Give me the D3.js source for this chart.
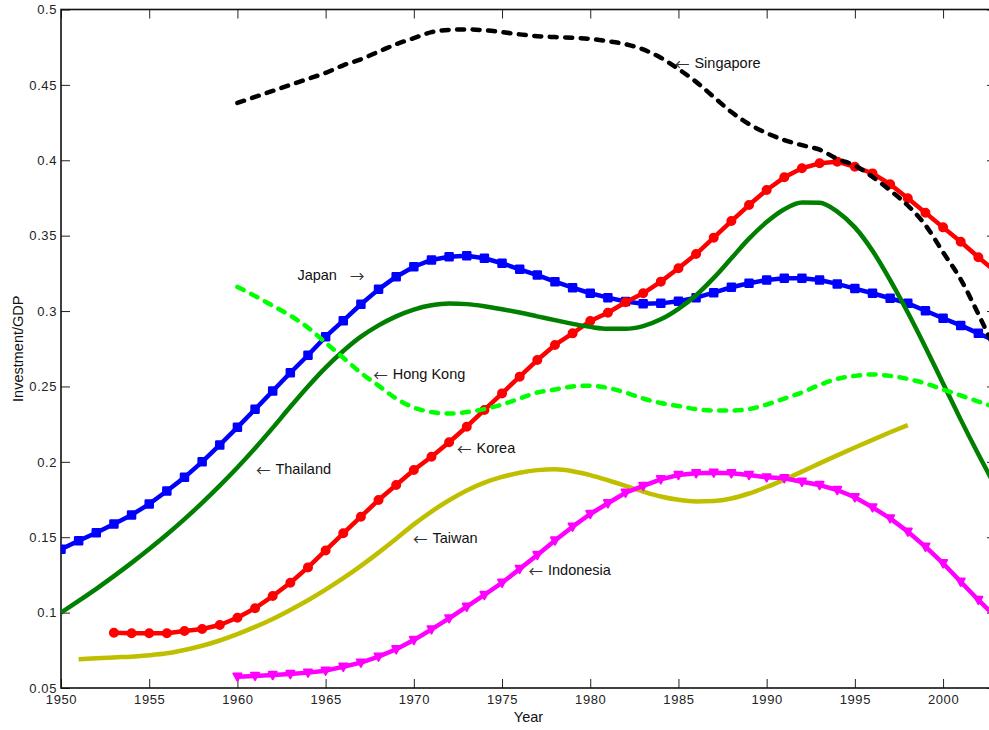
<!DOCTYPE html>
<html>
<head>
<meta charset="utf-8">
<script src="https://cdn.jsdelivr.net/npm/d3@7"></script>
<style>
  html, body { margin: 0; padding: 0; background: #fff; }
  svg { display: block; font-family: "Liberation Sans", Arial, Helvetica, sans-serif; }
</style>
</head>
<body>
<svg id="chart" width="989" height="730"></svg>
<script>
// Investment / GDP ratios, annual, by economy
const japanYears = d3.range(1950, 2004);
const japan = [
  0.142, 0.1477, 0.153, 0.1588, 0.1648, 0.172, 0.1807, 0.1897, 0.200, 0.2112,
  0.2229, 0.2348, 0.247, 0.2591, 0.2707, 0.283, 0.2936, 0.3045, 0.3144, 0.3228,
  0.3294, 0.3339, 0.336, 0.3367, 0.335, 0.3317, 0.3277, 0.3239, 0.3195, 0.3155,
  0.3118, 0.3089, 0.3063, 0.3049, 0.3051, 0.3065, 0.3089, 0.3122, 0.3158, 0.3184,
  0.3206, 0.3217, 0.3217, 0.3206, 0.318, 0.3149, 0.3118, 0.3085, 0.3051, 0.3002,
  0.2952, 0.2905, 0.2852, 0.280
];

const koreaYears = d3.range(1953, 2004);
const korea = [
  0.0867, 0.0863, 0.0863, 0.0863, 0.0878, 0.0891, 0.0918,
  0.0966, 0.1029, 0.111, 0.1198, 0.130, 0.1412, 0.1526, 0.1636, 0.1747, 0.1846,
  0.1946, 0.2034, 0.213, 0.2233, 0.2344, 0.2454, 0.2565, 0.2675, 0.2775, 0.2852,
  0.2934, 0.2989, 0.3058, 0.3118, 0.3195, 0.3284, 0.3378, 0.3487, 0.3597, 0.3703,
  0.3803, 0.3887, 0.3947, 0.398, 0.3991, 0.3957, 0.3913, 0.3841, 0.3748, 0.3652,
  0.3555, 0.346, 0.3357, 0.326
];

const thailandYears = d3.range(1950, 2004);
const thailand = [
  0.1000, 0.1078, 0.1158, 0.1242, 0.1330, 0.1422, 0.1518, 0.1620, 0.1728, 0.1842,
  0.1962, 0.2090, 0.2225, 0.2365, 0.2500, 0.2625, 0.2735, 0.2830, 0.2905, 0.2965,
  0.3010, 0.3038, 0.3050, 0.3046, 0.3032, 0.3012, 0.2990, 0.2965, 0.2940, 0.2915,
  0.2895, 0.2882, 0.2882, 0.2900, 0.2945, 0.3015, 0.3105, 0.3220, 0.3350, 0.3480,
  0.3590, 0.3675, 0.3720, 0.3718, 0.3660, 0.3555, 0.3400, 0.3205, 0.2990, 0.2760,
  0.2520, 0.2280, 0.2050, 0.1830
];

const hongKongYears = d3.range(1960, 2004);
const hongKong = [
  0.316, 0.310, 0.3035, 0.297, 0.289, 0.279, 0.269, 0.259, 0.2505, 0.242,
  0.236, 0.233, 0.232, 0.233, 0.235, 0.238, 0.242, 0.246, 0.248, 0.250,
  0.2505, 0.249, 0.246, 0.242, 0.239, 0.237, 0.235, 0.234, 0.234, 0.235,
  0.238, 0.242, 0.246, 0.251, 0.255, 0.257, 0.258, 0.257, 0.255, 0.252,
  0.248, 0.244, 0.240, 0.236
];

const singaporeYears = d3.range(1960, 2004);
const singapore = [
  0.438, 0.442, 0.446, 0.450, 0.454, 0.458, 0.463, 0.467, 0.472, 0.477,
  0.481, 0.485, 0.4865, 0.4868, 0.4862, 0.485, 0.4835, 0.4823, 0.4817, 0.4812,
  0.4805, 0.479, 0.477, 0.4735, 0.468, 0.4605, 0.452, 0.442, 0.432, 0.424,
  0.418, 0.4134, 0.410, 0.407, 0.401, 0.3965, 0.389, 0.380, 0.370, 0.357,
  0.339, 0.321, 0.298, 0.273
];

const taiwanYears = d3.range(1951, 1999);
const taiwan = [
  0.0690, 0.0697, 0.0703, 0.0708, 0.0717, 0.0730, 0.0752, 0.0780, 0.0815,
  0.0857, 0.0905, 0.0958, 0.1018, 0.1082, 0.1152, 0.1228, 0.1310, 0.1398, 0.1490,
  0.1585, 0.1670, 0.1745, 0.1810, 0.1862, 0.1900, 0.1928, 0.1945, 0.1950, 0.1938,
  0.1912, 0.1878, 0.1840, 0.1803, 0.1770, 0.1748, 0.1737, 0.1740, 0.1757, 0.1790,
  0.1833, 0.1882, 0.1935, 0.1990, 0.2043, 0.2095, 0.2146, 0.2196, 0.2244
];

const indonesiaYears = d3.range(1960, 2004);
const indonesia = [
  0.0575, 0.058, 0.0586, 0.0593, 0.0602, 0.0615, 0.0641, 0.0668, 0.0708, 0.0757,
  0.0818, 0.0889, 0.0962, 0.1039, 0.1117, 0.1198, 0.129, 0.1382, 0.1478, 0.157,
  0.1654, 0.1725, 0.1795, 0.184, 0.1884, 0.1913, 0.1924, 0.1928, 0.1924, 0.1913,
  0.1897, 0.1891, 0.1868, 0.1846, 0.1813, 0.1765, 0.1698, 0.1625, 0.1537, 0.1437,
  0.1327, 0.1205, 0.1084, 0.097
];

const xTicks = [1950, 1955, 1960, 1965, 1970, 1975, 1980, 1985, 1990, 1995, 2000];
const yTicks = [0.05, 0.1, 0.15, 0.2, 0.25, 0.3, 0.35, 0.4, 0.45, 0.5];

// Annotation anchors (year, ratio), label and arrow side
const annotations = [
  { label: "Singapore", arrow: "left",  year: 1984.8,  value: 0.4645 },
  { label: "Japan",     arrow: "right", year: 1963.4,  value: 0.3236 },
  { label: "Hong Kong", arrow: "left",  year: 1967.7,  value: 0.2583 },
  { label: "Korea",     arrow: "left",  year: 1972.45, value: 0.2092 },
  { label: "Thailand",  arrow: "left",  year: 1961.05, value: 0.1952 },
  { label: "Taiwan",    arrow: "left",  year: 1969.95, value: 0.1495 },
  { label: "Indonesia", arrow: "left",  year: 1976.5,  value: 0.1283 }
];

(function drawChart() {
  const svg = d3.select("#chart");
  const mLeft = 61, mRight = 996, mTop = 9.5, mBottom = 688;

  const x = d3.scaleLinear().domain([1950, 2003]).range([mLeft, mRight]);
  const y = d3.scaleLinear().domain([0.05, 0.5]).range([mBottom, mTop]);

  svg.append("defs").append("clipPath").attr("id", "plotClip")
    .append("rect").attr("x", mLeft).attr("y", mTop)
    .attr("width", mRight - mLeft).attr("height", mBottom - mTop);

  // Axes with inward ticks
  const tickFont = 13;
  const gx = svg.append("g").attr("transform", `translate(0,${mBottom})`)
    .call(d3.axisBottom(x).tickValues(xTicks).tickFormat(d3.format("d"))
      .tickSizeInner(-9).tickSizeOuter(0).tickPadding(7));
  const gy = svg.append("g").attr("transform", `translate(${mLeft},0)`)
    .call(d3.axisLeft(y).tickValues(yTicks).tickFormat(d3.format("~g"))
      .tickSizeInner(-9).tickSizeOuter(0).tickPadding(4));
  const gt = svg.append("g").attr("transform", `translate(0,${mTop})`)
    .call(d3.axisTop(x).tickValues(xTicks).tickFormat("")
      .tickSizeInner(-9).tickSizeOuter(0));
  const gr = svg.append("g").attr("transform", `translate(${mRight},0)`)
    .call(d3.axisRight(y).tickValues(yTicks).tickFormat("")
      .tickSizeInner(-9).tickSizeOuter(0));

  [gx, gy, gt, gr].forEach(g => {
    g.select(".domain").remove();
    g.selectAll(".tick line").attr("stroke", "#222").attr("stroke-width", 1);
    g.selectAll(".tick text").attr("fill", "#222")
      .attr("font-size", tickFont).attr("font-family", "Liberation Sans, Arial, sans-serif")
      .attr("letter-spacing", 0.6);
  });
  gx.selectAll(".tick text").attr("dy", "0.71em");

  // Box around the plot area
  svg.append("rect")
    .attr("x", mLeft).attr("y", mTop)
    .attr("width", mRight - mLeft).attr("height", mBottom - mTop)
    .attr("fill", "none").attr("stroke", "#111").attr("stroke-width", 1.6);

  // Axis titles
  svg.append("text")
    .attr("x", (mLeft + mRight) / 2).attr("y", 717)
    .attr("text-anchor", "middle").attr("dominant-baseline", "central")
    .attr("font-size", 14.5).attr("fill", "#111").text("Year");
  svg.append("text")
    .attr("transform", `translate(18,${(mTop + mBottom) / 2}) rotate(-90)`)
    .attr("text-anchor", "middle").attr("dominant-baseline", "central")
    .attr("font-size", 14.5).attr("fill", "#111").text("Investment/GDP");

  const plot = svg.append("g").attr("clip-path", "url(#plotClip)");

  const toPoints = (years, values) => years.map((yr, i) => [yr, values[i]]);
  const markedLine = d3.line().x(d => x(d[0])).y(d => y(d[1]));
  const smoothLine = d3.line().x(d => x(d[0])).y(d => y(d[1])).curve(d3.curveMonotoneX);

  function drawLine(pts, color, width, dash, gen) {
    plot.append("path").datum(pts)
      .attr("d", gen || markedLine)
      .attr("fill", "none")
      .attr("stroke", color)
      .attr("stroke-width", width)
      .attr("stroke-linejoin", "round")
      .attr("stroke-linecap", dash ? "round" : "butt")
      .attr("stroke-dasharray", dash || null);
  }

  // Japan: blue with square markers
  const jp = toPoints(japanYears, japan);
  drawLine(jp, "#0000ff", 4.5);
  plot.append("g").selectAll("rect").data(jp).join("rect")
    .attr("x", d => x(d[0]) - 3.5).attr("y", d => y(d[1]) - 3.5)
    .attr("width", 7).attr("height", 7)
    .attr("fill", "#0000ff").attr("stroke", "#0000ff")
    .attr("stroke-width", 2.5).attr("stroke-linejoin", "round");

  // Korea: red with circle markers
  const kr = toPoints(koreaYears, korea);
  drawLine(kr, "#ff0000", 4.5);
  plot.append("g").selectAll("circle").data(kr).join("circle")
    .attr("cx", d => x(d[0])).attr("cy", d => y(d[1]))
    .attr("r", 4).attr("fill", "#ff0000")
    .attr("stroke", "#ff0000").attr("stroke-width", 2);

  // Thailand, Hong Kong, Singapore, Taiwan
  drawLine(toPoints(thailandYears, thailand), "#007f00", 4.5, null, smoothLine);
  drawLine(toPoints(hongKongYears, hongKong), "#00ff00", 4.5, "7,8.5", smoothLine);
  drawLine(toPoints(singaporeYears, singapore), "#000000", 4.5, "7,8.5", smoothLine);
  drawLine(toPoints(taiwanYears, taiwan), "#bfbf00", 4.5, null, smoothLine);

  // Indonesia: magenta with downward triangle markers
  const id = toPoints(indonesiaYears, indonesia);
  drawLine(id, "#ff00ff", 4.5);
  plot.append("g").selectAll("path").data(id).join("path")
    .attr("transform", d => `translate(${x(d[0])},${y(d[1])})`)
    .attr("d", "M-4,-3.2L4,-3.2L0,4.2Z")
    .attr("fill", "#ff00ff").attr("stroke", "#ff00ff")
    .attr("stroke-width", 2).attr("stroke-linejoin", "round");

  // Series annotations: thin arrow glyph plus name
  const arrowFont = "'Noto Sans CJK SC', 'DejaVu Sans', sans-serif";
  const notes = svg.append("g").selectAll("text").data(annotations).join("text")
    .attr("x", d => x(d.year)).attr("y", d => y(d.value))
    .attr("dominant-baseline", "central")
    .attr("font-size", 14.5).attr("fill", "#111");
  notes.each(function(d) {
    const t = d3.select(this);
    if (d.arrow === "left") {
      t.append("tspan").attr("font-family", arrowFont).attr("fill", "#333").text("\u2190");
      t.append("tspan").attr("dx", 5).text(d.label);
    } else {
      t.append("tspan").text(d.label);
      t.append("tspan").attr("dx", 13).attr("font-family", arrowFont).attr("fill", "#333").text("\u2192");
    }
  });
})();
</script>
</body>
</html>
